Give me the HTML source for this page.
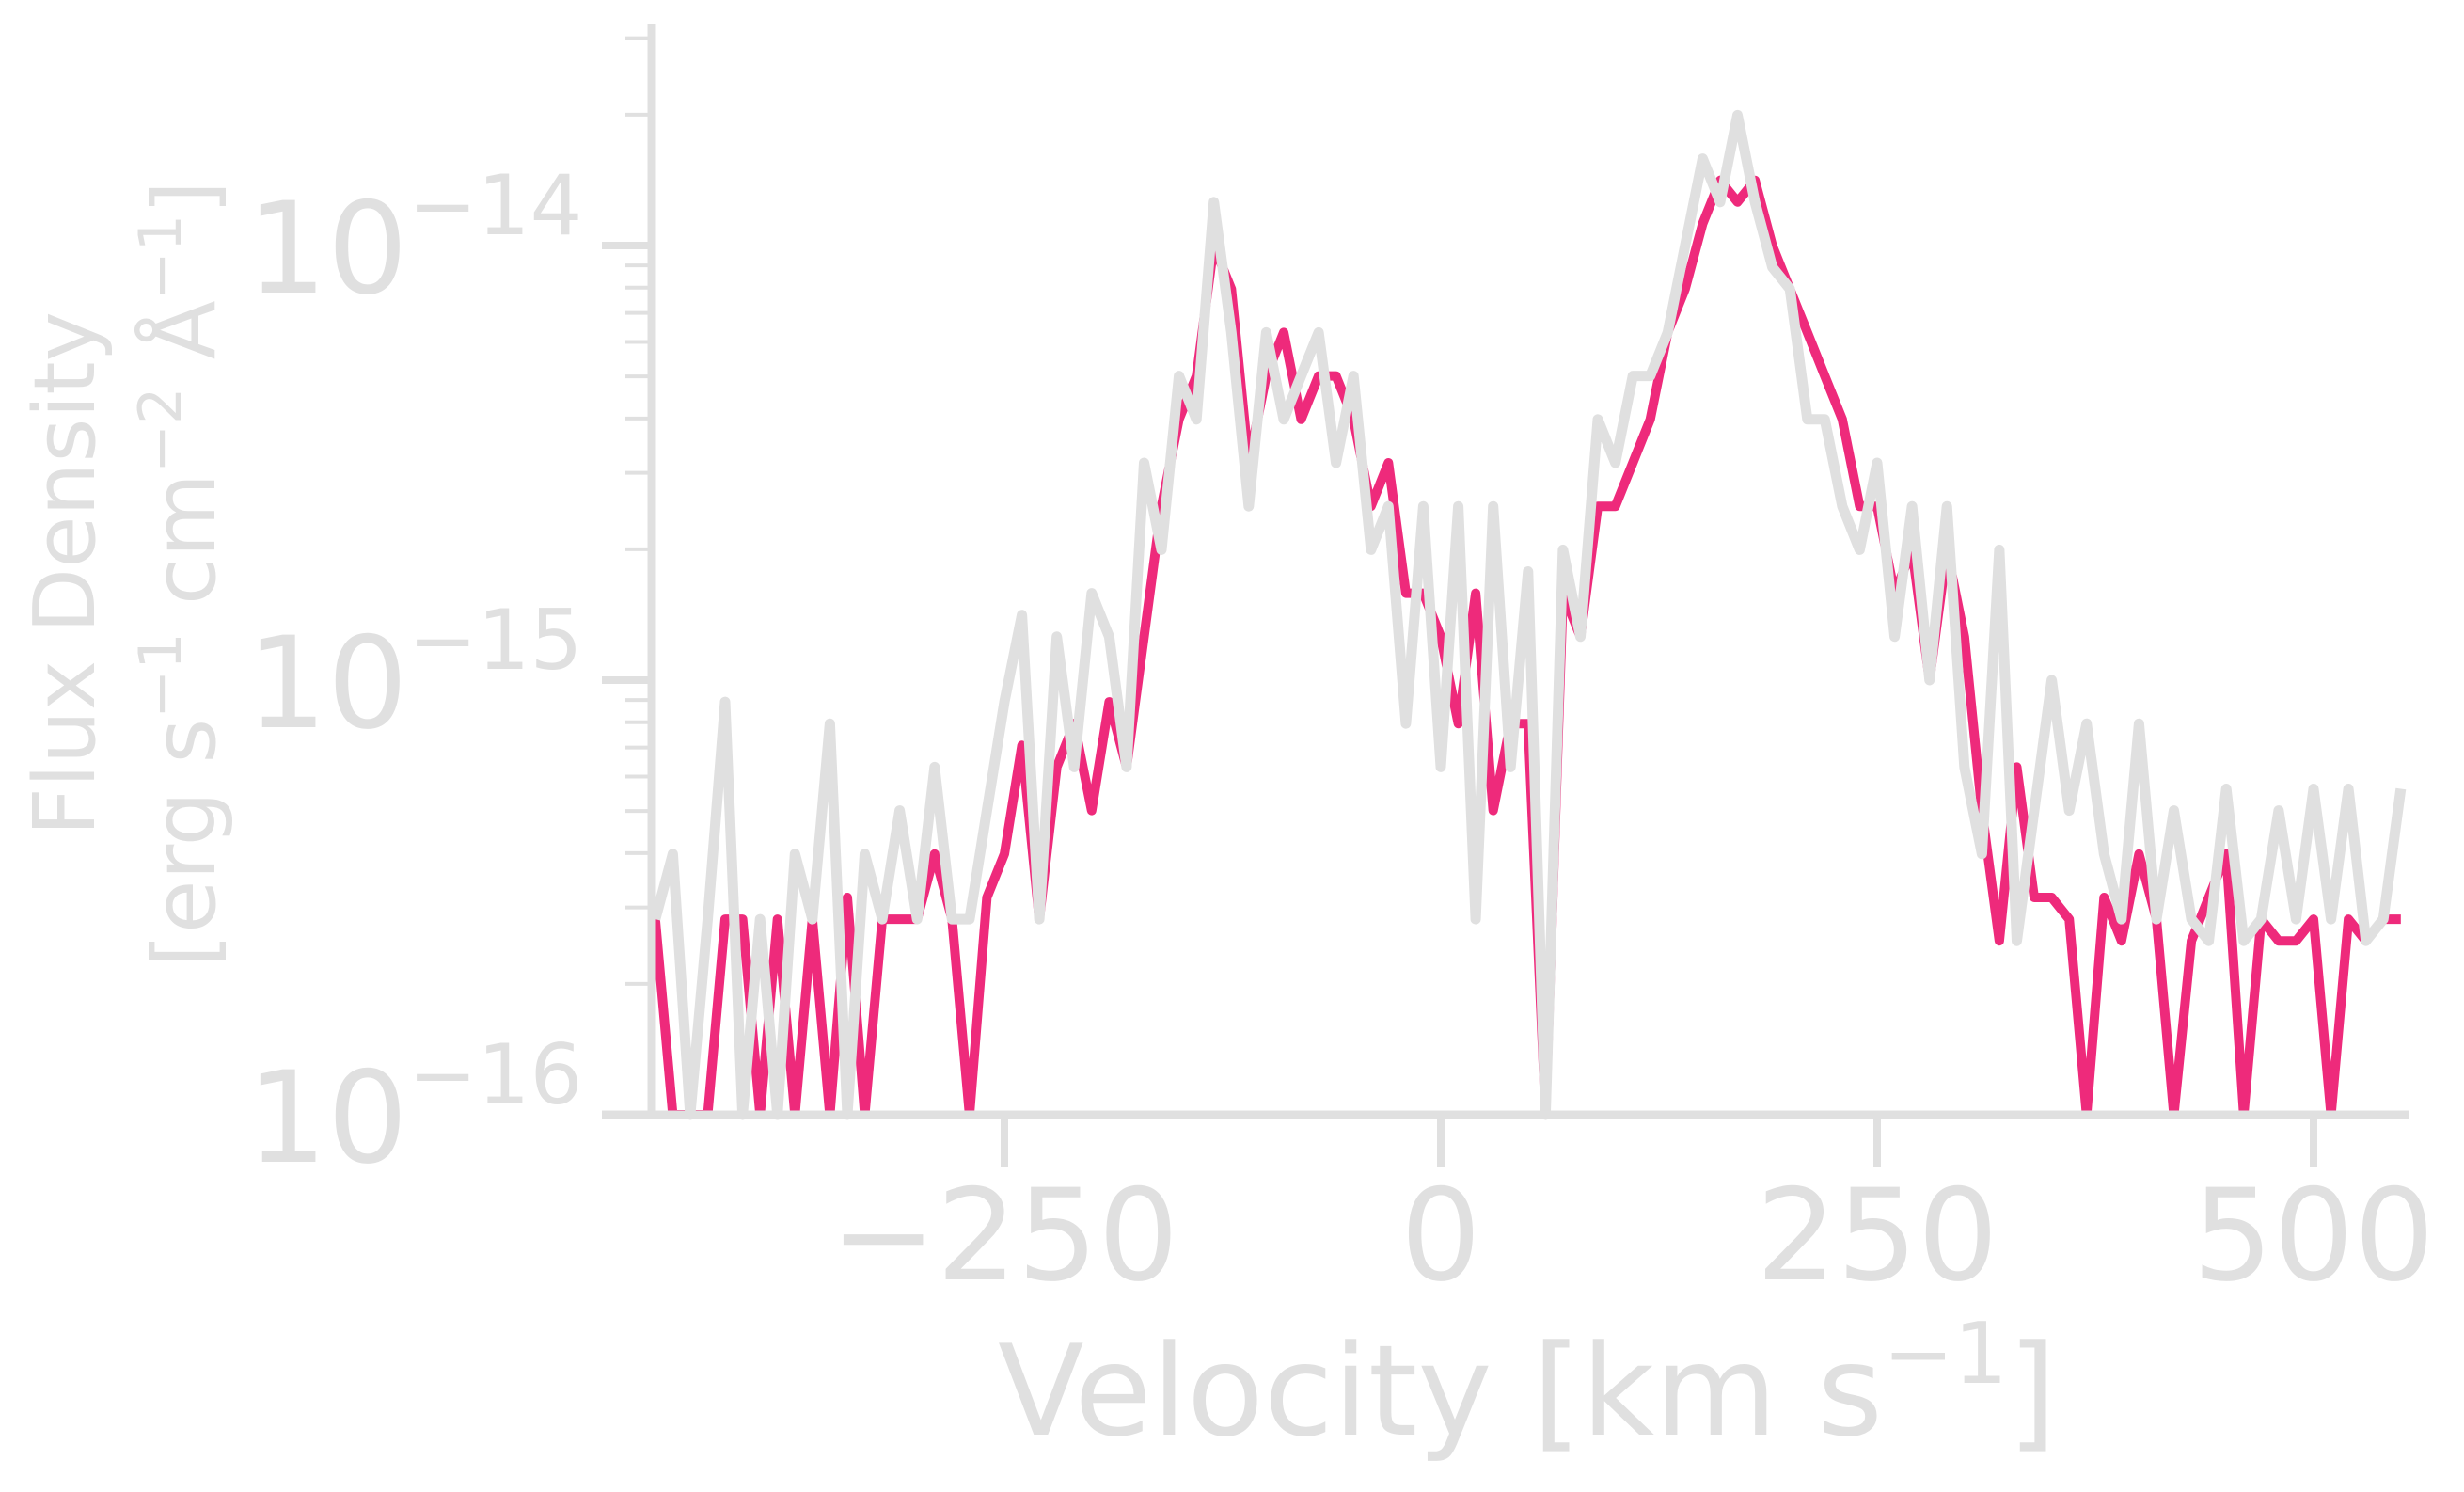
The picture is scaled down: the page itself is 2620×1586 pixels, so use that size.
<!DOCTYPE html>
<html><head><meta charset="utf-8"><style>
html,body{margin:0;padding:0;background:#fff;}
svg{display:block;font-family:"DejaVu Sans","Liberation Sans",sans-serif;}
</style></head><body>
<svg id="chart" width="2620" height="1586" viewBox="0 0 2620 1586">
<g id="marks"></g>
<g id="axes"></g>
</svg>
<script>
const F = -16;
const velStart = -450, velStep = 10;
const pinkLogFlux = [-15.55,F,-16,F,-15.55,-15.55,F,-15.55,F,-15.55,F,-15.5,F,-15.55,-15.55,-15.55,-15.4,-15.55,F,-15.5,
-15.4,-15.15,-15.55,-15.2,-15.1,-15.3,-15.05,-15.2,-14.9,-14.6,
-14.4,-14.3,-14.0,-14.1,-14.5,-14.3,-14.2,-14.4,-14.3,-14.3,
-14.4,-14.6,-14.5,-14.8,-14.8,-14.9,-15.1,-14.8,-15.3,-15.1,
-15.1,F,-14.8,-14.9,-14.6,-14.6,-14.5,-14.4,-14.2,-14.1,
-13.95,-13.85,-13.9,-13.85,-14.0,-14.1,-14.2,-14.3,-14.4,-14.6,
-14.6,-14.8,-14.7,-15.0,-14.7,-14.9,-15.3,-15.6,-15.2,-15.5,
-15.5,-15.55,F,-15.5,-15.6,-15.4,-15.55,F,-15.6,-15.5,
-15.4,F,-15.55,-15.6,-15.6,-15.55,F,-15.55,-15.6,-15.55,-15.55];
const grayLogFlux = [-15.55,-15.4,F,-15.55,-15.05,F,-15.55,F,-15.4,-15.55,-15.1,F,-15.4,-15.55,-15.3,-15.55,-15.2,-15.55,-15.55,-15.3,
-15.05,-14.85,-15.55,-14.9,-15.2,-14.8,-14.9,-15.2,-14.5,-14.7,
-14.3,-14.4,-13.9,-14.2,-14.6,-14.2,-14.4,-14.3,-14.2,-14.5,
-14.3,-14.7,-14.6,-15.1,-14.6,-15.2,-14.6,-15.55,-14.6,-15.2,
-14.75,F,-14.7,-14.9,-14.4,-14.5,-14.3,-14.3,-14.2,-14.0,
-13.8,-13.9,-13.7,-13.9,-14.05,-14.1,-14.4,-14.4,-14.6,-14.7,
-14.5,-14.9,-14.6,-15.0,-14.6,-15.2,-15.4,-14.7,-15.6,-15.3,
-15.0,-15.3,-15.1,-15.4,-15.55,-15.1,-15.55,-15.3,-15.55,-15.6,
-15.25,-15.6,-15.55,-15.3,-15.55,-15.25,-15.55,-15.25,-15.6,-15.55,-15.25];
const xTicks = [-250,0,250,500];
const xTickLabels = ["\u2212250","0","250","500"];
const yDecades = [-16,-15,-14];
const yTickLabels = ["\u221216","\u221215","\u221214"];

const NS = "http://www.w3.org/2000/svg";
const C = "#e0e0e0";
const xs = v => 1532 + v * (464/250);
const ys = l => 1185 - (l + 16) * 462;
function mk(tag, attrs, parent){const e=document.createElementNS(NS,tag);for(const k in attrs)e.setAttribute(k,attrs[k]);parent.appendChild(e);return e;}
const marks = document.getElementById('marks'), axes = document.getElementById('axes');

function series(arr, color, w, name){
  const pts = arr.map((l,i)=>xs(velStart+i*velStep).toFixed(1)+","+ys(Math.max(l,-16)).toFixed(1)).join(" ");
  const p = mk('polyline',{points:pts,fill:'none',stroke:color,'stroke-width':w,'stroke-linejoin':'round'},marks);
  
  
}
series(pinkLogFlux,'#ee2a7b',10,'pink-series-line');
series(grayLogFlux,C,11,'gray-series-line');

let a = mk('line',{x1:693,y1:25,x2:693,y2:1185,stroke:C,'stroke-width':9},axes);
 
a = mk('line',{x1:640,y1:1185,x2:2562,y2:1185,stroke:C,'stroke-width':9},axes);
 

yDecades.forEach((d,i)=>{
  const y = ys(d);
  const t = mk('line',{x1:640,y1:y,x2:693,y2:y,stroke:C,'stroke-width':8},axes);
   
  const tx = mk('text',{x:262,y:y+50,fill:C,'font-size':135,'text-anchor':'start'},axes);
   
  tx.textContent = "10";
  const sp = mk('tspan',{dy:-62,'font-size':88},tx); sp.textContent = yTickLabels[i];
});
for (let d=-16; d<=-14; d++){
  for (let m=2;m<=9;m++){
    const l = d + Math.log10(m); if (l > -13.49) continue;
    const y = ys(l);
    const t = mk('line',{x1:665,y1:y,x2:693,y2:y,stroke:C,'stroke-width':4},axes);
     
  }
}
xTicks.forEach((v,i)=>{
  const x = xs(v);
  const t = mk('line',{x1:x,y1:1185,x2:x,y2:1240,stroke:C,'stroke-width':8},axes);
   
  const tx = mk('text',{x:x,y:1360,fill:C,'font-size':135,'text-anchor':'middle'},axes);
   
  tx.textContent = xTickLabels[i];
});
let xt = mk('text',{x:1624,y:1525,fill:C,'font-size':134,'text-anchor':'middle'},axes);
 
xt.textContent = "Velocity [km s";
let s = mk('tspan',{dy:-55,'font-size':90},xt); s.textContent = "\u22121";
s = mk('tspan',{dy:55},xt); s.textContent = "]";

let yt = mk('text',{x:0,y:0,fill:C,'font-size':90,'text-anchor':'middle',transform:'translate(100,610) rotate(-90)'},axes);
 
yt.textContent = "Flux Density";
let yt2 = mk('text',{x:0,y:0,fill:C,'font-size':92,'text-anchor':'middle',transform:'translate(228,610) rotate(-90)'},axes);
 
yt2.textContent = "[erg s";
s = mk('tspan',{dy:-36,'font-size':62},yt2); s.textContent = "\u22121";
s = mk('tspan',{dy:36},yt2); s.textContent = " cm";
s = mk('tspan',{dy:-36,'font-size':62},yt2); s.textContent = "\u22122";
s = mk('tspan',{dy:36},yt2); s.textContent = " \u00c5";
s = mk('tspan',{dy:-36,'font-size':62},yt2); s.textContent = "\u22121";
s = mk('tspan',{dy:36},yt2); s.textContent = "]";
</script>
</body></html>
